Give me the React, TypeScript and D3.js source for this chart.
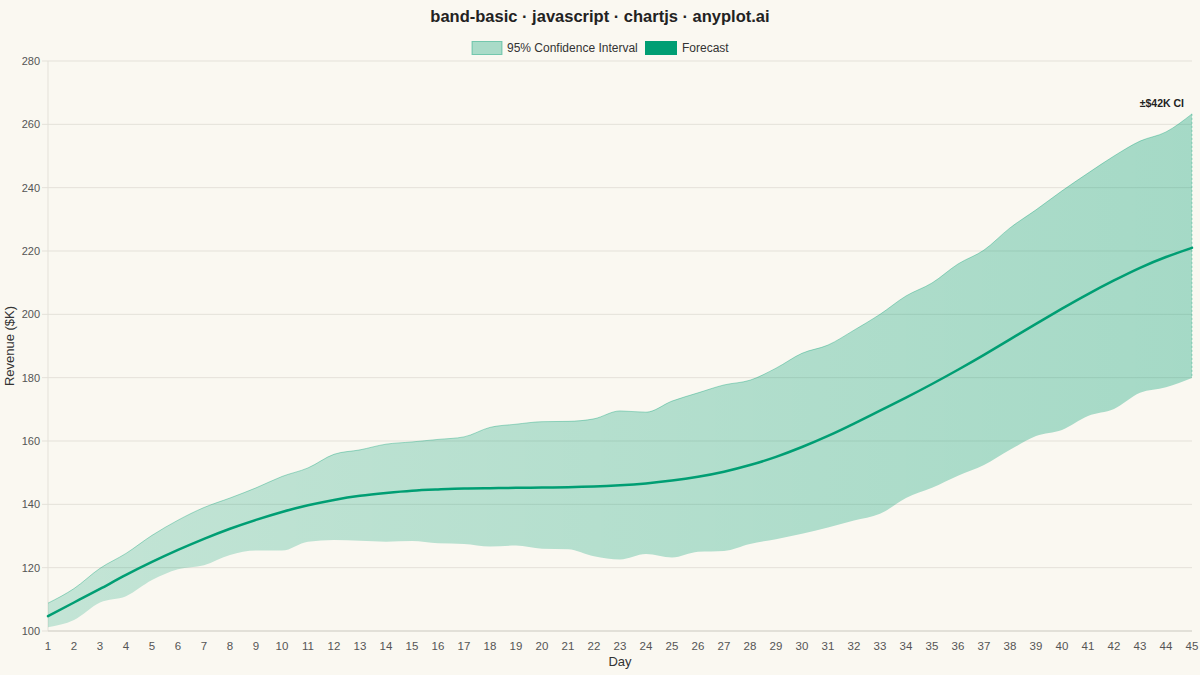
import React from "react";
import * as d3 from "d3";

const days = [1,2,3,4,5,6,7,8,9,10,11,12,13,14,15,16,17,18,19,20,21,22,23,24,25,26,27,28,29,30,31,32,33,34,35,36,37,38,39,40,41,42,43,44,45];

const forecast = [104.7,109.0,113.3,117.7,121.8,125.6,129.1,132.3,135.1,137.6,139.7,141.4,142.7,143.6,144.3,144.7,145.0,145.1,145.2,145.3,145.4,145.6,146.0,146.6,147.5,148.7,150.3,152.4,155.0,158.1,161.6,165.5,169.6,173.7,178.0,182.5,187.2,192.1,197.0,201.8,206.4,210.7,214.7,218.1,221.0];

const upper = [108.8,113.4,119.8,124.5,130.2,135.0,139.0,142.0,145.2,148.8,151.5,155.8,157.2,159.0,159.7,160.5,161.3,164.3,165.3,166.1,166.2,167.0,169.5,169.1,172.6,175.2,177.7,179.2,183.0,187.7,190.3,195.0,200.0,205.8,209.9,215.9,220.3,227.3,233.0,239.0,244.6,250.0,254.7,257.6,263.3];

const lower = [101.2,103.5,109.0,111.0,116.1,119.5,120.8,124.0,125.4,125.4,128.2,128.7,128.5,128.2,128.4,127.7,127.5,126.7,127.0,126.0,125.8,123.6,122.6,124.3,123.2,125.0,125.3,127.5,129.0,130.7,132.7,134.9,137.0,142.0,145.2,149.0,152.4,157.2,161.6,163.5,167.9,170.1,175.2,177.0,179.9];

const yTicks = [100,120,140,160,180,200,220,240,260,280];

const W = 1200, H = 675;
const L = 48, R = 1192, T = 61, B = 631;
const GREEN = "#009E73";
const FONT = "'Liberation Sans', Arial, Helvetica, sans-serif";

export default function App() {
  const x = d3.scaleLinear().domain([days[0], days[days.length - 1]]).range([L, R]);
  const y = d3.scaleLinear().domain([100, 280]).range([B, T]);
  const curve = d3.curveMonotoneX;

  const band = d3.area<number>()
    .x((_, i) => x(days[i]))
    .y0((_, i) => y(lower[i]))
    .y1((d) => y(d))
    .curve(curve)(upper) || "";
  const upperLine = d3.line<number>().x((_, i) => x(days[i])).y((d) => y(d)).curve(curve)(upper) || "";
  const fLine = d3.line<number>().x((_, i) => x(days[i])).y((d) => y(d)).curve(d3.curveNatural)(forecast) || "";

  const last = days.length - 1;
  const half = Math.round((upper[last] - lower[last]) / 2);

  return (
    <svg width={W} height={H} style={{ position: "absolute", left: 0, top: 0, background: "#FAF8F1" }} fontFamily={FONT}>
      <defs>
        <linearGradient id="bandGrad" x1={L} x2={R} y1={0} y2={0} gradientUnits="userSpaceOnUse">
          <stop offset="0" stopColor={GREEN} stopOpacity={0.22} />
          <stop offset="1" stopColor={GREEN} stopOpacity={0.34} />
        </linearGradient>
      </defs>
      <rect x={0} y={0} width={W} height={H} fill="#FAF8F1" />
      <text x={600} y={22} textAnchor="middle" fontSize={16.5} fontWeight="bold" fill="#222">
        band-basic · javascript · chartjs · anyplot.ai
      </text>
      {/* legend */}
      <rect x={472} y={41.5} width={30} height={13} fill={GREEN} fillOpacity={0.32} stroke={GREEN} strokeOpacity={0.45} strokeWidth={1} />
      <text x={507} y={52} fontSize={12} fill="#333">95% Confidence Interval</text>
      <rect x={645} y={41} width={32} height={14} fill={GREEN} />
      <text x={682} y={52} fontSize={12} fill="#333">Forecast</text>

      {/* grid */}
      {yTicks.map((t) => (
        <g key={t}>
          <line x1={L - 6} x2={R} y1={y(t)} y2={y(t)} stroke="#E4E1D9" strokeWidth={1} />
          <text x={40} y={y(t)} dy="0.35em" textAnchor="end" fontSize={11} fill="#555">{t}</text>
        </g>
      ))}
      <line x1={L} x2={L} y1={T} y2={B} stroke="#E4E1D9" strokeWidth={1} />
      <line x1={L} x2={R} y1={B} y2={B} stroke="#D6D3CB" strokeWidth={1.2} />
      {days.map((d) => (
        <text key={d} x={x(d)} y={650} textAnchor="middle" fontSize={11.5} fill="#555">{d}</text>
      ))}

      {/* band */}
      <path d={band} fill="url(#bandGrad)" />
      <path d={upperLine} fill="none" stroke={GREEN} strokeOpacity={0.35} strokeWidth={1} />
      <line x1={x(days[last])} x2={x(days[last])} y1={y(upper[last])} y2={y(lower[last])} stroke={GREEN} strokeOpacity={0.35} strokeWidth={1} strokeDasharray="2,2" />
      <path d={fLine} fill="none" stroke={GREEN} strokeWidth={2.5} strokeLinecap="round" />

      <text x={1184} y={107} textAnchor="end" fontSize={10.5} fontWeight="bold" fill="#222">±${half}K CI</text>

      {/* axis titles */}
      <text x={620} y={666} textAnchor="middle" fontSize={13} fill="#333">Day</text>
      <text transform={`translate(14, ${(T + B) / 2}) rotate(-90)`} textAnchor="middle" fontSize={13} fill="#333">Revenue ($K)</text>
    </svg>
  );
}
